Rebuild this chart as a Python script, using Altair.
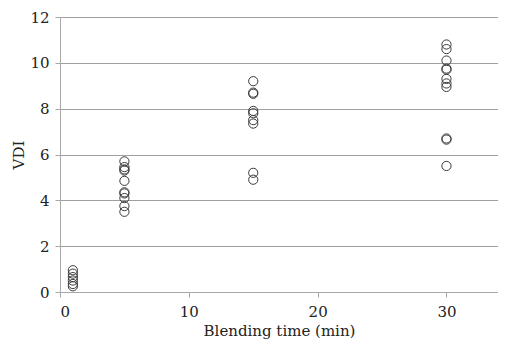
import altair as alt
import pandas as pd

times = [1]*6 + [5]*10 + [15]*9 + [30]*11
vdi = [0.95, 0.8, 0.65, 0.5, 0.35, 0.25,
       5.7, 5.45, 5.35, 5.3, 4.85, 4.35, 4.3, 4.1, 3.75, 3.5,
       9.2, 8.7, 8.65, 7.9, 7.8, 7.5, 7.35, 5.2, 4.9,
       10.8, 10.6, 10.1, 9.75, 9.7, 9.3, 9.1, 8.95, 6.7, 6.65, 5.5]

df = pd.DataFrame({"t": times, "vdi": vdi})

font = "DejaVu Serif"

chart = alt.Chart(df).mark_point(
    shape="circle", filled=False, size=85, stroke="#3a3a3a", strokeWidth=1, opacity=1
).encode(
    x=alt.X("t:Q", title="Blending time (min)",
            scale=alt.Scale(domain=[0, 34], nice=False),
            axis=alt.Axis(values=[0, 10, 20, 30], grid=False, tickSize=5,
                          labelPadding=7, titlePadding=4,
                          labelFont=font, titleFont=font)),
    y=alt.Y("vdi:Q", title="VDI",
            scale=alt.Scale(domain=[0, 12], nice=False),
            axis=alt.Axis(values=[0, 2, 4, 6, 8, 10, 12], grid=True, tickSize=5,
                          labelPadding=6, titlePadding=3,
                          labelFont=font, titleFont=font)),
).properties(
    width=438, height=275,
    autosize=alt.AutoSizeParams(type="none"),
    padding={"left": 52, "top": 9, "right": 0, "bottom": 47},
).configure(
    font=font
).configure_view(
    stroke=None
).configure_axis(
    labelFontSize=15, titleFontSize=15,
    labelColor="#222222", titleColor="#222222", titleFontWeight="normal",
    domainColor="#a8a8a8", tickColor="#a8a8a8", gridColor="#a0a0a0",
    gridOpacity=1, domainWidth=1, tickWidth=1
)

chart.save("out.html", embed_options={"renderer": "svg", "actions": False})
